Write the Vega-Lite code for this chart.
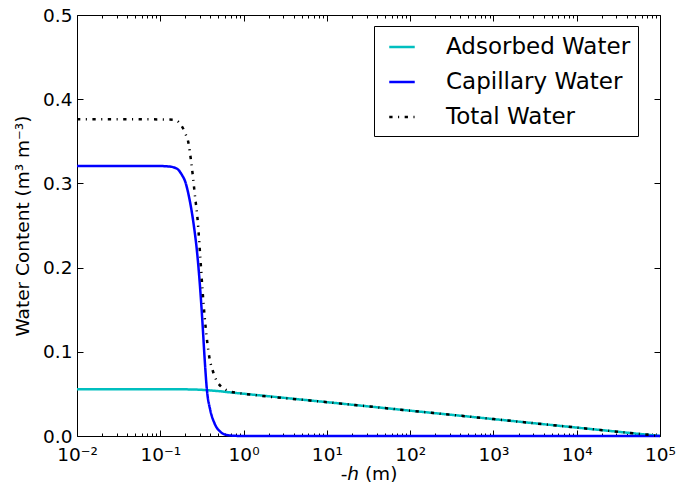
{
  "$schema": "https://vega.github.io/schema/vega-lite/v6.json",
  "width": 583,
  "height": 421,
  "autosize": {"type": "none"},
  "padding": {"left": 77, "top": 15, "right": 17, "bottom": 58},
  "background": "white",
  "config": {
    "font": "DejaVu Sans",
    "view": {"stroke": "black", "strokeWidth": 1},
    "axis": {
      "grid": false,
      "domain": false,
      "labelFlush": false,
      "labelColor": "black",
      "titleColor": "black",
      "tickColor": "black",
      "tickWidth": 1,
      "labelFont": "DejaVu Sans",
      "titleFont": "DejaVu Sans",
      "labelFontSize": 18.5,
      "titleFontSize": 18.5,
      "titleFontWeight": "normal"
    }
  },
  "data": {
    "values": [
      {"series": "Adsorbed Water", "h": 0.01, "theta": 0.0555},
      {"series": "Adsorbed Water", "h": 0.0316, "theta": 0.0555},
      {"series": "Adsorbed Water", "h": 0.1, "theta": 0.0555},
      {"series": "Adsorbed Water", "h": 0.1995, "theta": 0.0554},
      {"series": "Adsorbed Water", "h": 0.3162, "theta": 0.0548},
      {"series": "Adsorbed Water", "h": 0.3981, "theta": 0.0541},
      {"series": "Adsorbed Water", "h": 0.5012, "theta": 0.0533},
      {"series": "Adsorbed Water", "h": 0.631, "theta": 0.0522},
      {"series": "Adsorbed Water", "h": 0.7943, "theta": 0.0512},
      {"series": "Adsorbed Water", "h": 1, "theta": 0.0502},
      {"series": "Adsorbed Water", "h": 10, "theta": 0.0402},
      {"series": "Adsorbed Water", "h": 100, "theta": 0.0301},
      {"series": "Adsorbed Water", "h": 1000, "theta": 0.0201},
      {"series": "Adsorbed Water", "h": 10000, "theta": 0.01},
      {"series": "Adsorbed Water", "h": 100000, "theta": 0},

      {"series": "Capillary Water", "h": 0.01, "theta": 0.3207},
      {"series": "Capillary Water", "h": 0.0316, "theta": 0.3207},
      {"series": "Capillary Water", "h": 0.1, "theta": 0.3206},
      {"series": "Capillary Water", "h": 0.126, "theta": 0.3201},
      {"series": "Capillary Water", "h": 0.1442, "theta": 0.3191},
      {"series": "Capillary Water", "h": 0.1656, "theta": 0.3159},
      {"series": "Capillary Water", "h": 0.182, "theta": 0.31},
      {"series": "Capillary Water", "h": 0.1995, "theta": 0.302},
      {"series": "Capillary Water", "h": 0.2123, "theta": 0.2922},
      {"series": "Capillary Water", "h": 0.2244, "theta": 0.2811},
      {"series": "Capillary Water", "h": 0.2506, "theta": 0.2526},
      {"series": "Capillary Water", "h": 0.2799, "theta": 0.2129},
      {"series": "Capillary Water", "h": 0.302, "theta": 0.1734},
      {"series": "Capillary Water", "h": 0.3214, "theta": 0.1338},
      {"series": "Capillary Water", "h": 0.3396, "theta": 0.0942},
      {"series": "Capillary Water", "h": 0.3631, "theta": 0.0546},
      {"series": "Capillary Water", "h": 0.3981, "theta": 0.0309},
      {"series": "Capillary Water", "h": 0.4477, "theta": 0.0151},
      {"series": "Capillary Water", "h": 0.5248, "theta": 0.0051},
      {"series": "Capillary Water", "h": 0.631, "theta": 0.0012},
      {"series": "Capillary Water", "h": 0.7943, "theta": 0.0002},
      {"series": "Capillary Water", "h": 1, "theta": 0},
      {"series": "Capillary Water", "h": 10, "theta": 0},
      {"series": "Capillary Water", "h": 100, "theta": 0},
      {"series": "Capillary Water", "h": 1000, "theta": 0},
      {"series": "Capillary Water", "h": 10000, "theta": 0},
      {"series": "Capillary Water", "h": 100000, "theta": 0},

      {"series": "Total Water", "h": 0.01, "theta": 0.3762},
      {"series": "Total Water", "h": 0.0316, "theta": 0.3762},
      {"series": "Total Water", "h": 0.1, "theta": 0.376},
      {"series": "Total Water", "h": 0.126, "theta": 0.3758},
      {"series": "Total Water", "h": 0.1514, "theta": 0.3753},
      {"series": "Total Water", "h": 0.177, "theta": 0.3694},
      {"series": "Total Water", "h": 0.1995, "theta": 0.3595},
      {"series": "Total Water", "h": 0.2183, "theta": 0.3476},
      {"series": "Total Water", "h": 0.2333, "theta": 0.3278},
      {"series": "Total Water", "h": 0.2466, "theta": 0.308},
      {"series": "Total Water", "h": 0.2576, "theta": 0.2901},
      {"series": "Total Water", "h": 0.2831, "theta": 0.2526},
      {"series": "Total Water", "h": 0.302, "theta": 0.2129},
      {"series": "Total Water", "h": 0.3214, "theta": 0.1734},
      {"series": "Total Water", "h": 0.3467, "theta": 0.1338},
      {"series": "Total Water", "h": 0.3873, "theta": 0.0942},
      {"series": "Total Water", "h": 0.4355, "theta": 0.0748},
      {"series": "Total Water", "h": 0.4699, "theta": 0.0665},
      {"series": "Total Water", "h": 0.5395, "theta": 0.0586},
      {"series": "Total Water", "h": 0.6592, "theta": 0.0535},
      {"series": "Total Water", "h": 0.869, "theta": 0.051},
      {"series": "Total Water", "h": 1, "theta": 0.0502},
      {"series": "Total Water", "h": 10, "theta": 0.0402},
      {"series": "Total Water", "h": 100, "theta": 0.0301},
      {"series": "Total Water", "h": 1000, "theta": 0.0201},
      {"series": "Total Water", "h": 10000, "theta": 0.01},
      {"series": "Total Water", "h": 100000, "theta": 0}
    ]
  },
  "layer": [
    {
      "mark": {"type": "line", "interpolate": "monotone", "clip": false},
      "encoding": {
        "x": {
          "field": "h",
          "type": "quantitative",
          "scale": {"type": "log", "domain": [0.01, 100000], "nice": false},
          "axis": {
            "orient": "bottom",
            "values": [0.01, 0.1, 1, 10, 100, 1000, 10000, 100000],
            "ticks": false,
            "labelPadding": 9,
            "labelExpr": "datum.value < 0.05 ? '10⁻²' : datum.value < 0.5 ? '10⁻¹' : datum.value < 5 ? '10⁰' : datum.value < 50 ? '10¹' : datum.value < 500 ? '10²' : datum.value < 5000 ? '10³' : datum.value < 50000 ? '10⁴' : '10⁵'",
            "title": "-ℎ (m)",
            "titlePadding": 1
          }
        },
        "y": {
          "field": "theta",
          "type": "quantitative",
          "scale": {"domain": [0, 0.5], "nice": false},
          "axis": {
            "orient": "left",
            "values": [0, 0.1, 0.2, 0.3, 0.4, 0.5],
            "format": ".1f",
            "ticks": false,
            "labelPadding": 5,
            "title": "Water Content (m³ m⁻³)",
            "titlePadding": 10
          }
        },
        "color": {
          "field": "series",
          "type": "nominal",
          "scale": {
            "domain": ["Adsorbed Water", "Capillary Water", "Total Water"],
            "range": ["#00bfbf", "#0000ff", "#000000"]
          },
          "legend": {
            "orient": "none",
            "legendX": 297,
            "legendY": 11,
            "title": null,
            "strokeColor": "black",
            "fillColor": "white",
            "padding": 7,
            "rowPadding": 9,
            "symbolType": "stroke",
            "symbolSize": 650,
            "symbolStrokeWidth": 2.5,
            "symbolOffset": 7,
            "labelOffset": 30,
            "labelFont": "DejaVu Sans",
            "labelFontSize": 23,
            "labelColor": "black",
            "labelLimit": 400
          }
        },
        "strokeDash": {
          "field": "series",
          "type": "nominal",
          "scale": {
            "domain": ["Adsorbed Water", "Capillary Water", "Total Water"],
            "range": [[1, 0], [1, 0], [3.3, 5.5, 1.1, 5.5]]
          }
        },
        "strokeWidth": {
          "field": "series",
          "type": "nominal",
          "scale": {
            "domain": ["Adsorbed Water", "Capillary Water", "Total Water"],
            "range": [2.5, 2.5, 1]
          }
        }
      }
    },
    {
      "mark": {"type": "line", "strokeOpacity": 0},
      "encoding": {
        "x": {"field": "h", "type": "quantitative",
          "scale": {"type": "log", "domain": [0.01, 100000], "nice": false},
          "axis": {"orient": "bottom", "values": [0.01, 0.1, 1, 10, 100, 1000, 10000, 100000], "labels": false, "title": null, "tickSize": -6}},
        "y": {"field": "theta", "type": "quantitative",
          "scale": {"domain": [0, 0.5], "nice": false},
          "axis": {"orient": "left", "values": [0, 0.1, 0.2, 0.3, 0.4, 0.5], "labels": false, "title": null, "tickSize": -6}}
      }
    },
    {
      "mark": {"type": "line", "strokeOpacity": 0},
      "encoding": {
        "x": {"field": "h", "type": "quantitative",
          "scale": {"type": "log", "domain": [0.01, 100000], "nice": false},
          "axis": {"orient": "top", "values": [0.01, 0.1, 1, 10, 100, 1000, 10000, 100000], "labels": false, "title": null, "tickSize": -6}},
        "y": {"field": "theta", "type": "quantitative",
          "scale": {"domain": [0, 0.5], "nice": false},
          "axis": {"orient": "right", "values": [0, 0.1, 0.2, 0.3, 0.4, 0.5], "labels": false, "title": null, "tickSize": -6}}
      }
    },
    {
      "mark": {"type": "line", "strokeOpacity": 0},
      "encoding": {
        "x": {"field": "h", "type": "quantitative",
          "scale": {"type": "log", "domain": [0.01, 100000], "nice": false},
          "axis": {"orient": "bottom", "labels": false, "title": null, "tickSize": -3,
            "values": [0.02, 0.03, 0.04, 0.05, 0.06, 0.07, 0.08, 0.09, 0.2, 0.3, 0.4, 0.5, 0.6, 0.7, 0.8, 0.9, 2, 3, 4, 5, 6, 7, 8, 9, 20, 30, 40, 50, 60, 70, 80, 90, 200, 300, 400, 500, 600, 700, 800, 900, 2000, 3000, 4000, 5000, 6000, 7000, 8000, 9000, 20000, 30000, 40000, 50000, 60000, 70000, 80000, 90000]}},
        "y": {"field": "theta", "type": "quantitative",
          "scale": {"domain": [0, 0.5], "nice": false}, "axis": null}
      }
    },
    {
      "mark": {"type": "line", "strokeOpacity": 0},
      "encoding": {
        "x": {"field": "h", "type": "quantitative",
          "scale": {"type": "log", "domain": [0.01, 100000], "nice": false},
          "axis": {"orient": "top", "labels": false, "title": null, "tickSize": -3,
            "values": [0.02, 0.03, 0.04, 0.05, 0.06, 0.07, 0.08, 0.09, 0.2, 0.3, 0.4, 0.5, 0.6, 0.7, 0.8, 0.9, 2, 3, 4, 5, 6, 7, 8, 9, 20, 30, 40, 50, 60, 70, 80, 90, 200, 300, 400, 500, 600, 700, 800, 900, 2000, 3000, 4000, 5000, 6000, 7000, 8000, 9000, 20000, 30000, 40000, 50000, 60000, 70000, 80000, 90000]}},
        "y": {"field": "theta", "type": "quantitative",
          "scale": {"domain": [0, 0.5], "nice": false}, "axis": null}
      }
    }
  ],
  "resolve": {"axis": {"x": "independent", "y": "independent"}}
}
